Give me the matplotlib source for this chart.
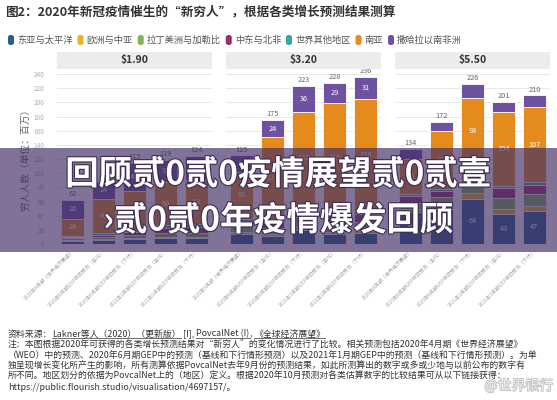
import matplotlib
matplotlib.use("Agg")
import matplotlib.pyplot as plt
import numpy as np
from matplotlib.patches import Rectangle, FancyBboxPatch
from matplotlib.lines import Line2D
from matplotlib.transforms import IdentityTransform
import matplotlib.patheffects as pe

plt.rcParams['font.family'] = ['Noto Sans CJK SC', 'DejaVu Sans']

# ---------------- data ----------------
title = "图2：2020年新冠疫情催生的“新穷人”，根据各类增长预测结果测算"
regions = ["东亚与太平洋", "欧洲与中亚", "拉丁美洲与加勒比", "中东与北非",
           "世界其他地区", "南亚", "撒哈拉以南非洲"]
colors = ["#25618f", "#e8b425", "#7cb55a", "#9a2f6f", "#3aa5a5", "#e58a1c", "#6f51a1"]
panels = ["$1.90", "$3.20", "$5.50"]
scenarios = ["2020年4月期《世界经济展望》",
             "2020年6月期GEP中的预测（基线）",
             "2020年6月期GEP中的预测（下行）",
             "2021年1月期GEP中的预测（基线）",
             "2021年1月期GEP中的预测（下行）"]

# values per region: [ $1.90 , $3.20 , $5.50 ], each 5 scenarios (millions)
eap = [[4, 6, 7, 8, 8], [14, 12, 20, 14, 15], [45, 50, 64, 43, 47]]
eca = [[1, 1, 1, 2, 2], [3, 2, 4, 3, 3], [5, 5, 8, 7, 7]]
lac = [[3, 3, 5, 6, 6], [8, 9, 14, 12, 13], [8, 12, 18, 15, 16]]
mena = [[2, 3, 4, 7, 8], [7, 9, 12, 11, 12], [10, 8, 16, 14, 14]]
rest = [[2, 2, 2, 4, 4], [4, 4, 5, 4, 4], [2, 3, 7, 3, 3]]
sa = [[24, 49, 56, 60, 62], [65, 115, 132, 155, 158], [50, 81, 93, 104, 107]]
ssa = [[26, 24, 40, 32, 34], [24, 24, 36, 29, 31], [14, 13, 20, 15, 16]]
series = [eap, eca, lac, mena, rest, sa, ssa]

y_ticks = list(range(0, 241, 20))
y_label = "穷人人数（单位：百万）"

overlay_line1 = "回顾贰0贰0疫情展望贰0贰壹"
overlay_line2 = "›贰0贰0年疫情爆发回顾"

source_pieces = [("资料来源：", False), ("Lakner等人（2020）（更新版）", True), (" [I], ", False),
                 ("PovcalNet (I)", True), (", ", False), ("《全球经济展望》", True)]
note_lines = [
    "注：本图根据2020年可获得的各类增长预测结果对“新穷人”的变化情况进行了比较。相关预测包括2020年4月期《世界经济展望》",
    "（WEO）中的预测、2020年6月期GEP中的预测（基线和下行情形预测）以及2021年1月期GEP中的预测（基线和下行情形预测）。为单",
    "独呈现增长变化所产生的影响，所有测算依据PovcalNet去年9月份的预测结果，如此所测算出的数字或多或少地与以前公布的数字有",
    "所不同。地区划分的依据为PovcalNet上的（地区）定义。根据2020年10月预测对各类估算数字的比较结果可从以下链接获得：",
    "https://public.flourish.studio/visualisation/4697157/。",
]
watermark = "世界银行"

# ---------------- figure ----------------
W, H = 557, 400
fig = plt.figure(figsize=(W / 100, H / 100), dpi=100)
fig.patch.set_facecolor("white")

def fx(px):
    return px / W

def fy(py):
    return 1 - py / H

panel_left = [57, 226, 395]
panel_w = 155
ax_top_px, ax_bot_px = 69.8, 244
ymax = 246

for pi, pname in enumerate(panels):
    ax = fig.add_axes([fx(panel_left[pi]), fy(ax_bot_px), panel_w / W, (ax_bot_px - ax_top_px) / H])
    x = np.arange(len(scenarios))
    bottom = np.zeros(len(scenarios))
    for si, s in enumerate(series):
        vals = np.array(s[pi], dtype=float)
        ax.bar(x, vals, width=0.74, bottom=bottom, color=colors[si], edgecolor="white",
               linewidth=0.6, zorder=3)
        for xi, (v, b) in enumerate(zip(vals, bottom)):
            if v >= 21:
                ax.text(xi, b + v / 2, f"{int(v)}", ha="center", va="center", color="white",
                        fontsize=5.3, zorder=4)
        bottom += vals
    for xi, t in enumerate(bottom):
        ax.text(xi, t + 2.5, f"{int(t)}", ha="center", va="bottom", color="#666666",
                fontsize=5.3, zorder=4)
    ax.set_xlim(-0.5, len(scenarios) - 0.5)
    ax.set_ylim(0, ymax)
    ax.set_yticks(y_ticks)
    ax.grid(axis="y", color="#e4e4e4", linewidth=0.6, zorder=0)
    ax.set_axisbelow(True)
    for sp in ax.spines.values():
        sp.set_visible(False)
    ax.tick_params(axis="both", length=0)
    ax.set_xticks(x)
    ax.set_xticklabels(scenarios, rotation=45, ha="right", rotation_mode="anchor",
                       fontsize=3.6, color="#a8a8a8")
    ax.tick_params(axis="x", pad=4)
    if pi == 0:
        ax.set_yticklabels([str(v) for v in y_ticks], fontsize=4.6, color="#b0b0b0")
        ax.tick_params(axis="y", pad=9)
    else:
        ax.set_yticklabels([])
    ax.patch.set_alpha(0)
    # panel header
    fig.add_artist(Rectangle((fx(panel_left[pi]), fy(69)), panel_w / W, 17 / H,
                             transform=fig.transFigure, facecolor="#ececec", edgecolor="none"))
    fig.text(fx(panel_left[pi] + panel_w / 2), fy(60.5), pname, ha="center", va="center",
             fontsize=7.5, fontweight="bold", color="#333333")

# y label
fig.text(fx(25), fy(157), y_label, rotation=90, ha="center", va="center",
         fontsize=7, color="#666666")

# title
fig.text(fx(5), fy(12), title, ha="left", va="center", fontsize=9.1,
         fontweight="bold", color="#333333")

fig.canvas.draw()
renderer = fig.canvas.get_renderer()

# legend
lx = 8
ly = H - 40
for name, c in zip(regions, colors):
    fig.add_artist(FancyBboxPatch((lx, ly - 5), 6, 10, boxstyle="round,pad=0,rounding_size=2.5",
                                  transform=IdentityTransform(), facecolor=c, edgecolor="none"))
    t = fig.text(fx(lx + 9), fy(40), name, ha="left", va="center", fontsize=6.7, color="#555555")
    bb = t.get_window_extent(renderer)
    lx = bb.x1 + 5

# overlay band
fig.add_artist(Rectangle((0, fy(252)), 1, (252 - 148) / H, transform=fig.transFigure,
                         facecolor=(66 / 255, 46 / 255, 100 / 255), alpha=0.67,
                         edgecolor="none", zorder=20))
shadow = [pe.withStroke(linewidth=1.6, foreground="#3b2d55")]
fig.text(0.5, fy(175), overlay_line1, ha="center", va="center", fontsize=24,
         fontweight="bold", color="white", zorder=30, path_effects=shadow)
fig.text(0.5, fy(221), overlay_line2, ha="center", va="center", fontsize=24,
         fontweight="bold", color="white", zorder=30, path_effects=shadow)

# footer
fs = 6.4
sx = 8
sy = 334
for piece, ul in source_pieces:
    t = fig.text(fx(sx), fy(sy), piece, ha="left", va="center", fontsize=fs, color="#333333")
    bb = t.get_window_extent(renderer)
    if ul:
        fig.add_artist(Line2D([bb.x0, bb.x1], [bb.y0 + 0.5, bb.y0 + 0.5], transform=IdentityTransform(),
                              color="#333333", linewidth=0.5))
    sx = bb.x1
for i, line in enumerate(note_lines):
    fig.text(fx(8), fy(345 + i * 10.6), line, ha="left", va="center", fontsize=fs,
             color="#333333")

fig.text(fx(553), fy(386), "@" + watermark, ha="right", va="center", fontsize=10,
         color="#f2f2f2", zorder=25,
         path_effects=[pe.withStroke(linewidth=1.0, foreground="#b8b8b8")])

fig.savefig("out.png", dpi=100, facecolor="white")
